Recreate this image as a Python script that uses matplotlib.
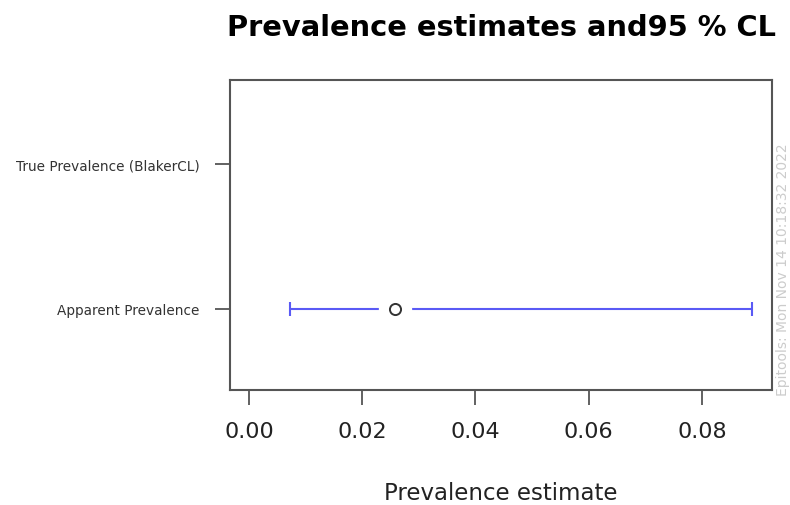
import numpy as np
import matplotlib
matplotlib.use("Agg")
import matplotlib.pyplot as plt

categories = ["Apparent Prevalence", "True Prevalence (BlakerCL)"]
estimate = [0.0257, np.nan]
lower = [0.0072, np.nan]
upper = [0.0889, np.nan]
xticks = [0.00, 0.02, 0.04, 0.06, 0.08]
xtick_labels = ["0.00", "0.02", "0.04", "0.06", "0.08"]
title = "Prevalence estimates and95 % CL"
xlabel = "Prevalence estimate"
stamp = "Epitools: Mon Nov 14 10:18:32 2022"

W, H = 790, 506
fig = plt.figure(figsize=(W / 100, H / 100), dpi=100)
L, R, T, B = 230, 772, 81, 391
ax = fig.add_axes([L / W, 1 - B / H, (R - L) / W, (B - T) / H])

ypos = np.arange(1, len(categories) + 1)
blue = "#5a5af5"
for y, e, lo, hi in zip(ypos, estimate, lower, upper):
    if np.isnan(e):
        continue
    ax.errorbar([e], [y], xerr=[[e - lo], [hi - e]], fmt="none",
                ecolor=blue, elinewidth=1.5, capsize=4.8, capthick=1.5, zorder=2)
    ax.plot([e], [y], marker="o", markersize=24, markerfacecolor="white",
            markeredgecolor="none", linestyle="none", zorder=3)
    ax.plot([e], [y], marker="o", markersize=8, markerfacecolor="none",
            markeredgecolor="#333333", markeredgewidth=1.4, linestyle="none", zorder=4)

ax.set_xlim(-0.00336, 0.09237)
ax.set_ylim(0.44, 2.58)
ax.set_yticks(ypos)
ax.set_yticklabels(categories, fontsize=9.8, color="#333333")
ax.set_xticks(xticks)
ax.set_xticklabels(xtick_labels, fontsize=16, color="#222222")
ax.tick_params(axis="x", length=11, width=1.3, color="#555555", pad=11)
ax.tick_params(axis="y", length=11, width=1.3, color="#555555", pad=11)
for s in ax.spines.values():
    s.set_color("#555555")
    s.set_linewidth(1.5)

fig.text(501 / W, 1 - 36 / H, title, ha="center", va="baseline",
         fontsize=20.8, fontweight="bold", color="black")
fig.text(501 / W, 1 - 500 / H, xlabel, ha="center", va="baseline",
         fontsize=16.5, color="#222222")
fig.text(783 / W, 1 - 396 / H, stamp, rotation=90, ha="center", va="bottom",
         fontsize=10.0, color="#cccccc")

fig.savefig("out.png", dpi=100)
